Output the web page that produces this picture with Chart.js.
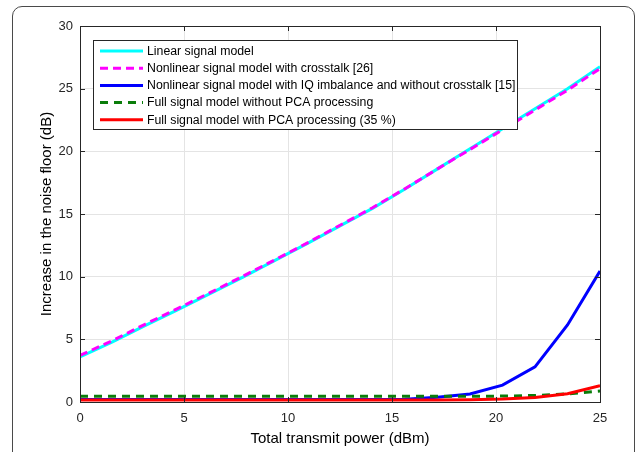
<!DOCTYPE html>
<html>
<head>
<meta charset="utf-8">
<script src="https://cdn.jsdelivr.net/npm/chart.js@4.4.0/dist/chart.umd.min.js"></script>
<style>
  html, body { margin: 0; padding: 0; background: #fff; overflow: hidden; }
  #frame {
    position: absolute; left: 12px; top: 6px; width: 623px; height: 470px;
    border: 1px solid #4a4a4a; border-radius: 10px; box-sizing: border-box;
  }
  #chart { position: absolute; left: 0; top: 0; }
</style>
</head>
<body>
<div id="frame"></div>
<canvas id="chart" width="636" height="452"></canvas>
<script>
// ── Data ───────────────────────────────────────────────────
const txPower = [0, 1.5625, 3.125, 4.6875, 6.25, 7.8125, 9.375, 10.9375, 12.5,
                 14.0625, 15.625, 17.1875, 18.75, 20.3125, 21.875, 23.4375, 25];

const linearModel    = [3.6, 4.8, 6.1, 7.35, 8.65, 9.95, 11.3, 12.65, 14.05,
                        15.45, 17.0, 18.6, 20.2, 21.8, 23.4, 25.0, 26.75];
const crosstalkModel = [3.72, 4.9, 6.2, 7.45, 8.72, 10.02, 11.35, 12.7, 14.1,
                        15.5, 17.02, 18.6, 20.15, 21.72, 23.3, 24.88, 26.6];
const iqModel        = [0.2, 0.2, 0.2, 0.2, 0.2, 0.2, 0.2, 0.2, 0.2,
                        0.2, 0.22, 0.38, 0.64, 1.35, 2.8, 6.15, 10.45];
const fullNoPca      = [0.45, 0.45, 0.45, 0.45, 0.45, 0.45, 0.45, 0.45, 0.45,
                        0.45, 0.45, 0.45, 0.46, 0.47, 0.52, 0.65, 0.88];
const fullPca        = [0.15, 0.15, 0.15, 0.15, 0.15, 0.15, 0.15, 0.15, 0.15,
                        0.15, 0.15, 0.15, 0.17, 0.23, 0.36, 0.66, 1.3];

const xTicks = [0, 5, 10, 15, 20, 25];
const yTicks = [0, 5, 10, 15, 20, 25, 30];

const seriesLabels = [
  'Linear signal model',
  'Nonlinear signal model with crosstalk [26]',
  'Nonlinear signal model with IQ imbalance and without crosstalk [15]',
  'Full signal model without PCA processing',
  'Full signal model with PCA processing (35 %)',
];

const FONT = "'Liberation Sans', Arial, Helvetica, sans-serif";
const AXIS_COLOR = '#262626';

const toPoints = (ys) => ys.map((y, i) => ({ x: txPower[i], y }));

// ── Box around the axes with inward ticks (MATLAB style) ──
const boxPlugin = {
  id: 'axesBox',
  afterDatasetsDraw(chart) {
    const { ctx, chartArea: { left, right, top, bottom }, scales: { x, y } } = chart;
    ctx.save();
    ctx.strokeStyle = AXIS_COLOR;
    ctx.lineWidth = 1;
    ctx.beginPath();
    for (const v of xTicks) {
      const px = Math.round(x.getPixelForValue(v)) + 0.5;
      ctx.moveTo(px, bottom); ctx.lineTo(px, bottom - 5);
      ctx.moveTo(px, top);    ctx.lineTo(px, top + 5);
    }
    for (const v of yTicks) {
      const py = Math.round(y.getPixelForValue(v)) + 0.5;
      ctx.moveTo(left, py);  ctx.lineTo(left + 5, py);
      ctx.moveTo(right, py); ctx.lineTo(right - 5, py);
    }
    ctx.stroke();
    ctx.strokeRect(Math.round(left) + 0.5, Math.round(top) + 0.5,
                   Math.round(right - left), Math.round(bottom - top));
    ctx.restore();
  },
};

// ── Legend box drawn inside the plot area ─────────────────
const legendPlugin = {
  id: 'insideLegend',
  afterDraw(chart) {
    const { ctx, chartArea: { left, top } } = chart;
    const bx = left + 13, by = top + 14, bw = 424, bh = 89;
    const rowH = 17.2;
    ctx.save();
    ctx.fillStyle = '#fff';
    ctx.fillRect(bx, by, bw, bh);
    ctx.strokeStyle = AXIS_COLOR;
    ctx.lineWidth = 1;
    ctx.strokeRect(bx + 0.5, by + 0.5, bw, bh);
    ctx.font = `12.3px ${FONT}`;
    ctx.textBaseline = 'middle';
    chart.data.datasets.forEach((ds, i) => {
      const cy = by + 11 + i * rowH;
      ctx.beginPath();
      ctx.strokeStyle = ds.borderColor;
      ctx.lineWidth = ds.borderWidth;
      ctx.setLineDash(ds.borderDash || []);
      ctx.moveTo(bx + 7, cy);
      ctx.lineTo(bx + 50, cy);
      ctx.stroke();
      ctx.setLineDash([]);
      ctx.fillStyle = '#000';
      ctx.fillText(ds.label, bx + 54, cy + 0.5);
    });
    ctx.restore();
  },
};

const lineStyle = (label, data, color, dash, order) => ({
  label,
  data: toPoints(data),
  borderColor: color,
  backgroundColor: color,
  borderWidth: 3,
  borderDash: dash,
  pointRadius: 0,
  tension: 0,
  fill: false,
  order,
});

new Chart(document.getElementById('chart'), {
  type: 'line',
  data: {
    datasets: [
      lineStyle(seriesLabels[0], linearModel,    '#00ffff', [],     4),
      lineStyle(seriesLabels[1], crosstalkModel, '#ff00ff', [8, 5], 3),
      lineStyle(seriesLabels[2], iqModel,        '#0000ff', [],     2),
      lineStyle(seriesLabels[3], fullNoPca,      '#0a7d0a', [8, 6], 1),
      lineStyle(seriesLabels[4], fullPca,        '#ff0000', [],     0),
    ],
  },
  options: {
    responsive: false,
    animation: false,
    layout: { padding: { left: 34, right: 36, top: 26, bottom: 0 } },
    plugins: {
      legend: { display: false },
      tooltip: { enabled: false },
    },
    scales: {
      x: {
        type: 'linear',
        min: 0,
        max: 25,
        afterFit: (s) => { s.height = 50; },
        afterBuildTicks: (s) => { s.ticks = xTicks.map(v => ({ value: v })); },
        ticks: { color: AXIS_COLOR, font: { family: FONT, size: 13 }, padding: 9, maxRotation: 0 },
        grid: { color: '#e4e4e4', lineWidth: 1, drawTicks: false },
        border: { display: false },
        title: {
          display: true,
          text: 'Total transmit power (dBm)',
          color: '#000',
          font: { family: FONT, size: 15 },
        },
      },
      y: {
        min: 0,
        max: 30,
        afterFit: (s) => { s.width = 46; },
        afterBuildTicks: (s) => { s.ticks = yTicks.map(v => ({ value: v })); },
        ticks: { color: AXIS_COLOR, font: { family: FONT, size: 13 }, padding: 7 },
        grid: { color: '#e4e4e4', lineWidth: 1, drawTicks: false },
        border: { display: false },
        title: {
          display: true,
          text: 'Increase in the noise floor (dB)',
          color: '#000',
          font: { family: FONT, size: 15 },
        },
      },
    },
  },
  plugins: [boxPlugin, legendPlugin],
});
</script>
</body>
</html>
